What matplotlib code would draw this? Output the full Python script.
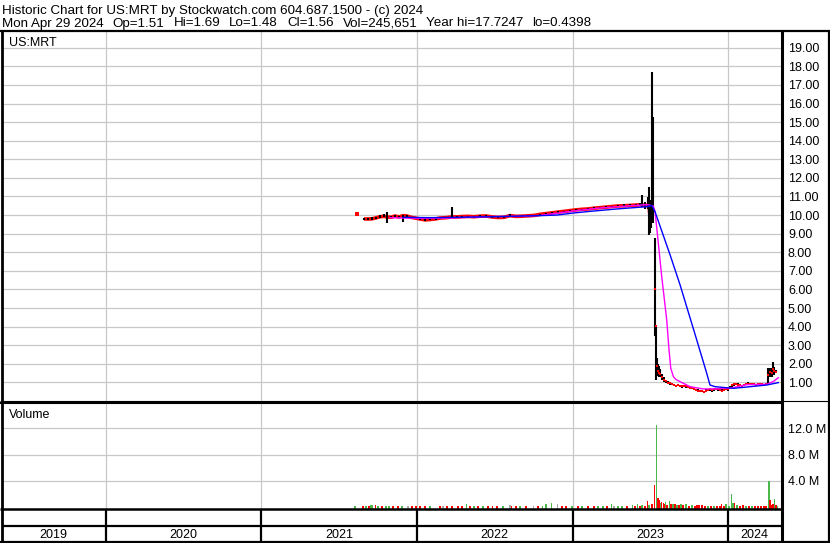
import numpy as np
import matplotlib
matplotlib.use('Agg')
import matplotlib.pyplot as plt

plt.rcParams['font.family'] = ['Liberation Sans', 'DejaVu Sans']

# Textes de l'entete
header_1 = "Historic Chart for US:MRT by Stockwatch.com 604.687.1500 - (c) 2024"
header_2 = ["Mon Apr 29 2024", "Op=1.51", "Hi=1.69", "Lo=1.48", "Cl=1.56",
            "Vol=245,651", "Year hi=17.7247", "lo=0.4398"]
symbole = "US:MRT"

# Axes (temps en annees decimales)
annees = [2019, 2020, 2021, 2022, 2023, 2024]
debut, fin = 2019.335, 2024.338
ticks_prix = list(range(1, 20))
ticks_volume = [4, 8, 12]

# Cours : date, cloture, bas, haut
prix_t = [2021.615, 2021.660, 2021.686, 2021.712, 2021.737, 2021.763, 2021.789, 2021.808,
          2021.834, 2021.859, 2021.885, 2021.911, 2021.936, 2021.962, 2021.988, 2022.020,
          2022.052, 2022.084, 2022.123, 2022.148, 2022.187, 2022.225, 2022.258, 2022.290,
          2022.328, 2022.367, 2022.405, 2022.444, 2022.482, 2022.521, 2022.559, 2022.598,
          2022.636, 2022.675, 2022.714, 2022.752, 2022.791, 2022.829, 2022.868, 2022.906,
          2022.945, 2022.983, 2023.022, 2023.060, 2023.099, 2023.137, 2023.176, 2023.215,
          2023.253, 2023.292, 2023.330, 2023.369, 2023.407, 2023.433, 2023.446, 2023.465,
          2023.484, 2023.491, 2023.497, 2023.504, 2023.510, 2023.516, 2023.526, 2023.532,
          2023.542, 2023.548, 2023.555, 2023.561, 2023.574, 2023.587, 2023.600, 2023.613,
          2023.626, 2023.638, 2023.651, 2023.664, 2023.677, 2023.690, 2023.703, 2023.715,
          2023.728, 2023.741, 2023.754, 2023.767, 2023.780, 2023.793, 2023.805, 2023.818,
          2023.831, 2023.844, 2023.857, 2023.870, 2023.882, 2023.895, 2023.908, 2023.921,
          2023.934, 2023.947, 2023.960, 2023.972, 2023.985, 2023.998, 2024.011, 2024.024,
          2024.037, 2024.049, 2024.062, 2024.075, 2024.088, 2024.101, 2024.114, 2024.127,
          2024.139, 2024.152, 2024.165, 2024.178, 2024.191, 2024.204, 2024.216, 2024.229,
          2024.242, 2024.255, 2024.268, 2024.281, 2024.287, 2024.294, 2024.306]
prix_cloture = [10.06, 9.79, 9.79, 9.80, 9.85, 9.91, 9.93, 9.90,
                9.88, 9.95, 9.90, 9.97, 9.95, 9.88, 9.84, 9.79,
                9.74, 9.76, 9.80, 9.84, 9.86, 9.90, 9.90, 9.92,
                9.93, 9.91, 9.94, 9.95, 9.90, 9.87, 9.88, 9.97,
                9.93, 9.94, 9.96, 9.98, 10.04, 10.08, 10.12, 10.16,
                10.20, 10.24, 10.28, 10.31, 10.33, 10.37, 10.40, 10.43,
                10.46, 10.49, 10.50, 10.52, 10.54, 10.55, 10.56, 10.50,
                10.55, 10.40, 9.91, 10.50, 10.50, 10.20, 6.00, 4.03,
                1.90, 1.60, 1.50, 1.45, 1.30, 1.15, 1.05, 0.98,
                0.95, 0.92, 0.85, 0.82, 0.85, 0.80, 0.78, 0.80,
                0.78, 0.74, 0.72, 0.70, 0.64, 0.60, 0.56, 0.54,
                0.52, 0.50, 0.55, 0.60, 0.62, 0.58, 0.62, 0.66,
                0.62, 0.58, 0.55, 0.60, 0.64, 0.62, 0.70, 0.84,
                0.90, 0.92, 0.88, 0.86, 0.82, 0.85, 0.90, 0.94,
                0.92, 0.90, 0.92, 0.88, 0.90, 0.92, 0.90, 0.88,
                0.92, 1.40, 1.55, 1.50, 1.70, 1.60, 1.56]
prix_bas = [10.04, 9.72, 9.74, 9.75, 9.80, 9.85, 9.88, 9.57,
            9.84, 9.90, 9.86, 9.64, 9.90, 9.84, 9.80, 9.75,
            9.68, 9.72, 9.76, 9.80, 9.82, 9.86, 9.86, 9.88,
            9.89, 9.87, 9.90, 9.91, 9.86, 9.83, 9.84, 9.92,
            9.89, 9.90, 9.92, 9.94, 10.00, 10.04, 10.08, 10.12,
            10.16, 10.20, 10.24, 10.27, 10.29, 10.33, 10.36, 10.39,
            10.42, 10.45, 10.46, 10.48, 10.50, 10.50, 10.45, 10.30,
            10.30, 8.93, 9.04, 9.30, 9.90, 9.57, 3.50, 1.13,
            1.50, 1.35, 1.30, 1.30, 1.15, 1.00, 0.95, 0.90,
            0.88, 0.85, 0.80, 0.78, 0.78, 0.74, 0.72, 0.74,
            0.72, 0.68, 0.66, 0.64, 0.58, 0.54, 0.50, 0.48,
            0.46, 0.44, 0.48, 0.54, 0.56, 0.50, 0.56, 0.60,
            0.56, 0.52, 0.49, 0.54, 0.58, 0.56, 0.62, 0.72,
            0.82, 0.85, 0.82, 0.80, 0.76, 0.78, 0.84, 0.88,
            0.86, 0.85, 0.86, 0.82, 0.84, 0.86, 0.84, 0.82,
            0.85, 0.90, 1.30, 1.30, 1.40, 1.40, 1.48]
prix_haut = [10.08, 9.85, 9.84, 9.88, 9.90, 9.98, 10.05, 10.18,
             9.94, 10.00, 9.96, 10.02, 10.00, 9.92, 9.88, 9.84,
             9.78, 9.80, 9.84, 9.88, 9.90, 10.42, 9.94, 9.96,
             9.97, 9.95, 9.98, 9.99, 9.94, 9.91, 9.92, 10.04,
             9.97, 9.98, 10.00, 10.02, 10.08, 10.12, 10.16, 10.20,
             10.24, 10.28, 10.32, 10.35, 10.37, 10.41, 10.44, 10.47,
             10.50, 10.53, 10.58, 10.62, 10.60, 10.65, 11.08, 10.70,
             10.99, 11.53, 10.80, 10.60, 17.72, 15.26, 8.75, 4.00,
             2.30, 2.00, 1.90, 1.70, 1.45, 1.30, 1.15, 1.05,
             1.00, 0.98, 0.92, 0.88, 0.90, 0.86, 0.85, 0.86,
             0.84, 0.80, 0.78, 0.76, 0.70, 0.66, 0.62, 0.60,
             0.58, 0.56, 0.62, 0.66, 0.68, 0.66, 0.68, 0.72,
             0.70, 0.64, 0.62, 0.68, 0.70, 0.68, 0.80, 0.92,
             0.98, 0.98, 0.95, 0.92, 0.88, 0.90, 0.96, 1.00,
             0.98, 0.96, 0.98, 0.94, 0.96, 0.98, 0.95, 0.94,
             0.98, 1.76, 1.80, 1.75, 2.11, 1.85, 1.69]
# index de la derniere seance avant l'effondrement
dernier_spac = 61

# Moyenne mobile courte (magenta)
mm_courte_t = [2021.827, 2022.020, 2022.213, 2022.470, 2022.662, 2022.791, 2023.003,
               2023.176, 2023.369, 2023.478, 2023.516, 2023.529, 2023.548, 2023.572,
               2023.587, 2023.604, 2023.619, 2023.630, 2023.647, 2023.664, 2023.690,
               2023.754, 2023.838, 2023.926, 2024.030, 2024.118, 2024.247, 2024.289,
               2024.321]
mm_courte = [9.86, 9.82, 9.84, 9.92, 9.93, 9.98, 10.22,
             10.38, 10.50, 10.56, 10.50, 10.20, 8.66, 6.69,
             5.60, 4.36, 2.74, 1.76, 1.31, 1.15, 1.04,
             0.77, 0.65, 0.65, 0.72, 0.88, 0.90, 1.05,
             1.25]

# Moyenne mobile longue (bleu)
mm_longue_t = [2021.911, 2022.084, 2022.277, 2022.470, 2022.791, 2022.898, 2023.003,
               2023.112, 2023.285, 2023.476, 2023.508, 2023.529, 2023.626, 2023.690,
               2023.797, 2023.861, 2023.882, 2023.915, 2024.032, 2024.139, 2024.247,
               2024.321]
mm_longue = [9.88, 9.86, 9.88, 9.91, 9.97, 10.00, 10.11,
             10.20, 10.33, 10.45, 10.52, 10.18, 7.85, 6.24,
             3.28, 1.49, 0.86, 0.77, 0.68, 0.77, 0.86,
             0.99]

# Volume (millions) et sens : h = hausse, b = baisse, n = neutre
vol_t = [2021.602, 2021.654, 2021.673, 2021.692, 2021.705, 2021.716, 2021.735, 2021.750,
         2021.776, 2021.802, 2021.821, 2021.847, 2021.879, 2021.904, 2021.943, 2021.969,
         2021.994, 2022.020, 2022.052, 2022.084, 2022.148, 2022.168, 2022.193, 2022.225,
         2022.264, 2022.290, 2022.320, 2022.341, 2022.367, 2022.392, 2022.425, 2022.457,
         2022.487, 2022.514, 2022.553, 2022.598, 2022.609, 2022.636, 2022.662, 2022.701,
         2022.748, 2022.778, 2022.805, 2022.829, 2022.866, 2022.904, 2022.932, 2022.958,
         2022.996, 2023.035, 2023.060, 2023.099, 2023.137, 2023.163, 2023.195, 2023.221,
         2023.251, 2023.266, 2023.292, 2023.317, 2023.349, 2023.386, 2023.401, 2023.418,
         2023.433, 2023.446, 2023.465, 2023.480, 2023.491, 2023.510, 2023.525, 2023.540,
         2023.548, 2023.557, 2023.565, 2023.572, 2023.583, 2023.590, 2023.598, 2023.606,
         2023.621, 2023.632, 2023.645, 2023.658, 2023.671, 2023.683, 2023.696, 2023.709,
         2023.728, 2023.748, 2023.767, 2023.786, 2023.799, 2023.812, 2023.831, 2023.850,
         2023.870, 2023.889, 2023.908, 2023.927, 2023.947, 2023.958, 2023.972, 2023.985,
         2024.005, 2024.022, 2024.030, 2024.040, 2024.056, 2024.075, 2024.094, 2024.114,
         2024.133, 2024.152, 2024.171, 2024.191, 2024.210, 2024.229, 2024.242, 2024.260,
         2024.268, 2024.278, 2024.287, 2024.298, 2024.306, 2024.316]
vol_m = [0.03, 0.12, 0.06, 0.08, 0.18, 0.30, 0.30, 0.10,
         0.08, 0.06, 0.12, 0.06, 0.05, 0.06, 0.12, 0.05,
         0.04, 0.06, 0.05, 0.05, 0.04, 0.12, 0.05, 0.08,
         0.05, 0.06, 0.35, 0.05, 0.04, 0.15, 0.05, 0.04,
         0.12, 0.05, 0.05, 0.25, 0.15, 0.04, 0.05, 0.04,
         0.14, 0.04, 0.15, 0.32, 0.48, 0.38, 0.06, 0.05,
         0.05, 0.06, 0.05, 0.04, 0.08, 0.05, 0.06, 0.04,
         0.35, 0.15, 0.06, 0.05, 0.06, 0.30, 0.05, 0.40,
         0.10, 0.20, 0.15, 0.92, 0.20, 0.35, 3.38, 12.60,
         1.30, 1.08, 0.55, 0.72, 0.52, 0.40, 0.62, 0.30,
         0.92, 0.40, 0.35, 0.45, 0.30, 0.20, 0.35, 0.20,
         0.46, 0.15, 0.20, 0.15, 0.30, 0.30, 0.20, 0.12,
         0.15, 0.08, 0.10, 0.12, 0.10, 0.46, 0.15, 0.36,
         0.10, 2.00, 0.50, 0.56, 0.25, 0.15, 0.25, 0.15,
         0.12, 0.12, 0.15, 0.10, 0.10, 0.08, 0.10, 4.00,
         1.08, 0.30, 0.35, 1.23, 0.30, 0.15]
vol_sens = ("hbhbhhbh" "bhhbbhnb" "bbbhbnbb" "bbhbhbhb"
            "bbhnbbhb" "nbhhhnbb" "hbhbbhhb" "hnhhbhbh"
            "bhbbhbbh" "bbhbbbhb" "hbhbhbhb" "hbhbbbbb"
            "hbhbbbbh" "hhhbhbbh" "bhbbbbbh" "bbbhbh")

# Couleurs
rouge = "#ff0000"
vert = "#4cb84c"
gris_barre = "#a8a8a8"
gris_grille = "#c8c8c8"
couleurs_sens = {"h": vert, "b": rouge, "n": gris_barre}

W, H = 830, 543


def boite(x0, y0, x1, y1):
    # Rectangle en pixels (origine en haut a gauche) -> coordonnees figure
    return [x0 / W, 1 - y1 / H, (x1 - x0) / W, (y1 - y0) / H]


fig = plt.figure(figsize=(W / 100, H / 100), dpi=100)
fig.patch.set_facecolor("white")

# Panneau des cours
ax_p = fig.add_axes(boite(2, 31, 781, 401))
ax_p.set_xlim(debut, fin)
ax_p.set_ylim(0, 19.9)
ax_p.set_xticks(annees[1:])
ax_p.set_yticks(ticks_prix)
ax_p.set_yticklabels(["%.2f" % v for v in ticks_prix])
ax_p.yaxis.tick_right()
ax_p.tick_params(axis="y", length=0, pad=5, labelsize=9)
ax_p.tick_params(axis="x", length=0, labelbottom=False)
ax_p.grid(True, color=gris_grille, lw=0.9)
ax_p.set_axisbelow(True)
for s in ax_p.spines.values():
    s.set_visible(False)

n = dernier_spac + 1
ax_p.plot(prix_t[:1], prix_cloture[:1], "s", color=rouge, ms=2.4, mew=0)
ax_p.plot(prix_t[1:n], prix_cloture[1:n], color=rouge, lw=2.6, solid_capstyle="butt")
ax_p.vlines(prix_t[1:], prix_bas[1:], prix_haut[1:], color="black", lw=1.5)
ax_p.plot(prix_t[n:], prix_cloture[n:], "s", color=rouge, ms=1.8, mew=0)
ax_p.plot(mm_courte_t, mm_courte, color="#ff00ff", lw=1.0)
ax_p.plot(mm_longue_t, mm_longue, color="#0000ff", lw=1.0)

# Panneau des volumes
bas_vol = -0.38
ax_v = fig.add_axes(boite(2, 403, 781, 509))
ax_v.set_xlim(debut, fin)
ax_v.set_ylim(bas_vol, 15.92)
ax_v.set_xticks(annees[1:])
ax_v.set_yticks(ticks_volume)
ax_v.set_yticklabels(["%.1f M" % v for v in ticks_volume])
ax_v.yaxis.tick_right()
ax_v.tick_params(axis="y", length=0, pad=5, labelsize=9)
ax_v.tick_params(axis="x", length=0, labelbottom=False)
ax_v.grid(True, color=gris_grille, lw=0.9)
ax_v.set_axisbelow(True)
for s in ax_v.spines.values():
    s.set_visible(False)

couleurs_vol = [couleurs_sens[c] for c in vol_sens]
ax_v.bar(vol_t, np.array(vol_m) - bas_vol, bottom=bas_vol, width=0.0085,
         color=couleurs_vol, lw=0, align="center")

# Bande des annees
ax_a = fig.add_axes(boite(2, 509, 781, 541))
ax_a.set_xlim(debut, fin)
ax_a.set_ylim(0, 1)
ax_a.axis("off")
for a in annees[1:]:
    ax_a.axvline(a, color="black", lw=1.6)
ax_a.axhline(0.47, color="black", lw=1.6)
for a in annees:
    g, d = max(a, debut), min(a + 1, fin)
    ax_a.text((g + d) / 2, 0.2, str(a), ha="center", va="center", fontsize=9)

# Cadre et textes en pixels
ax_f = fig.add_axes([0, 0, 1, 1], zorder=10)
ax_f.set_xlim(0, W)
ax_f.set_ylim(H, 0)
ax_f.axis("off")
ax_f.patch.set_alpha(0)

traits = [
    ([0, W], [30.5, 30.5], 1.6),
    ([1.5, 1.5], [30, 542], 2.0),
    ([828.5, 828.5], [30, 542], 1.6),
    ([781.5, 781.5], [30, 542], 2.2),
    ([0, W], [400.5, 400.5], 0.8),
    ([0, 781], [403, 403], 1.5),
    ([0, 781], [509, 509], 1.8),
    ([0, W], [541.5, 541.5], 1.6),
]
for xs, ys, lw in traits:
    ax_f.plot(xs, ys, color="black", lw=lw, solid_capstyle="butt")

ax_f.text(2, 14, header_1, fontsize=9.6, va="baseline", ha="left")

# Champs de la deuxieme ligne, separes par un ecart fixe
renderer = fig.canvas.get_renderer()
x = 2
for champ in header_2:
    t = ax_f.text(x, 26.5, champ, fontsize=9.6, va="baseline", ha="left")
    x += t.get_window_extent(renderer).width + 9

ax_f.text(9, 46, symbole, fontsize=9, va="baseline", ha="left")
ax_f.text(9, 418, "Volume", fontsize=9, va="baseline", ha="left")

fig.savefig("out.png", dpi=100)
